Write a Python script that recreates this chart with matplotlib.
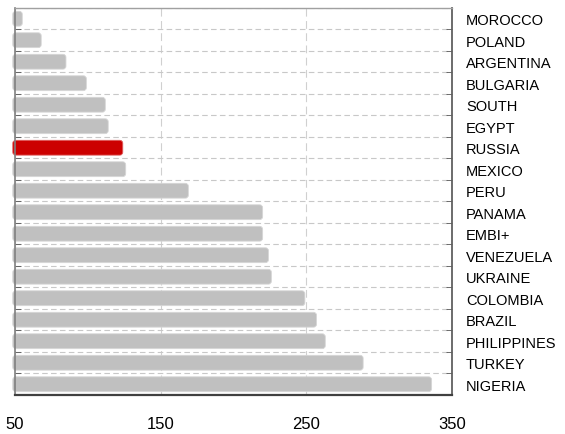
"""Horizontal bar chart of spreads by country."""
import matplotlib
matplotlib.use("Agg")
import matplotlib.pyplot as plt
from matplotlib.patches import FancyBboxPatch
import numpy as np

countries = [
    "MOROCCO", "POLAND", "ARGENTINA", "BULGARIA", "SOUTH", "EGYPT",
    "RUSSIA", "MEXICO", "PERU", "PANAMA", "EMBI+", "VENEZUELA",
    "UKRAINE", "COLOMBIA", "BRAZIL", "PHILIPPINES", "TURKEY", "NIGERIA",
]
spreads = [
    55, 68, 85, 99, 112, 114,
    124, 126, 169, 220, 220, 224,
    226, 249, 257, 263, 289, 336,
]
highlight = "RUSSIA"
x_ticks = [50, 150, 250, 350]

plt.rcParams["font.family"] = ["Liberation Sans", "DejaVu Sans"]

fig = plt.figure(figsize=(5.65, 4.35), dpi=100)
ax = fig.add_axes([0.0265, 0.0897, 0.7735, 0.8897])

ax.set_xlim(x_ticks[0], x_ticks[-1])
ax.set_ylim(len(countries) - 0.5, -0.5)

# rounded bars: radius given in x units, aspect converts it for y
x_per_px = (x_ticks[-1] - x_ticks[0]) / (0.7735 * 565)
y_per_px = len(countries) / (0.8897 * 435)
bar_h = 0.69
start = x_ticks[0] - 1.5
for i, (c, v) in enumerate(zip(countries, spreads)):
    col = "#cc0000" if c == highlight else "#c0c0c0"
    edge = "#e06060" if c == highlight else "#d6d6d6"
    ax.add_patch(FancyBboxPatch(
        (start, i - bar_h / 2), v - start, bar_h,
        boxstyle=f"round,pad=0,rounding_size={3 * x_per_px}",
        mutation_aspect=y_per_px / x_per_px,
        facecolor=col, edgecolor=edge, linewidth=0.6,
        zorder=2, clip_on=False))

y = np.arange(len(countries))

# category labels on the right, boundary ticks on both sides
ax.set_yticks(y)
ax.set_yticklabels(countries, fontsize=10.5)
ax.yaxis.tick_right()
ax.tick_params(axis="y", which="major", length=0, pad=10)
ax.set_yticks(np.arange(len(countries) + 1) - 0.5, minor=True)
ax.tick_params(axis="y", which="minor", direction="in", length=4,
               color="#555555", left=True, right=True)

ax.set_xticks(x_ticks)
ax.set_xticklabels([str(t) for t in x_ticks], fontsize=12)
ax.tick_params(axis="x", length=0, pad=15)

ax.grid(True, axis="y", which="minor", color="#c8c8c8", linestyle=(0, (5, 3)),
        linewidth=0.8, zorder=1)
ax.grid(True, axis="x", which="major", color="#d0d0d0", linestyle=(0, (7, 4)),
        linewidth=0.8, zorder=3)
ax.grid(False, axis="y", which="major")

for side, col, lw in [("left", "#808080", 1.2), ("top", "#a0a0a0", 1.0),
                      ("right", "#606060", 1.3), ("bottom", "#404040", 1.6)]:
    ax.spines[side].set_color(col)
    ax.spines[side].set_linewidth(lw)

fig.savefig("out.png", dpi=100)
